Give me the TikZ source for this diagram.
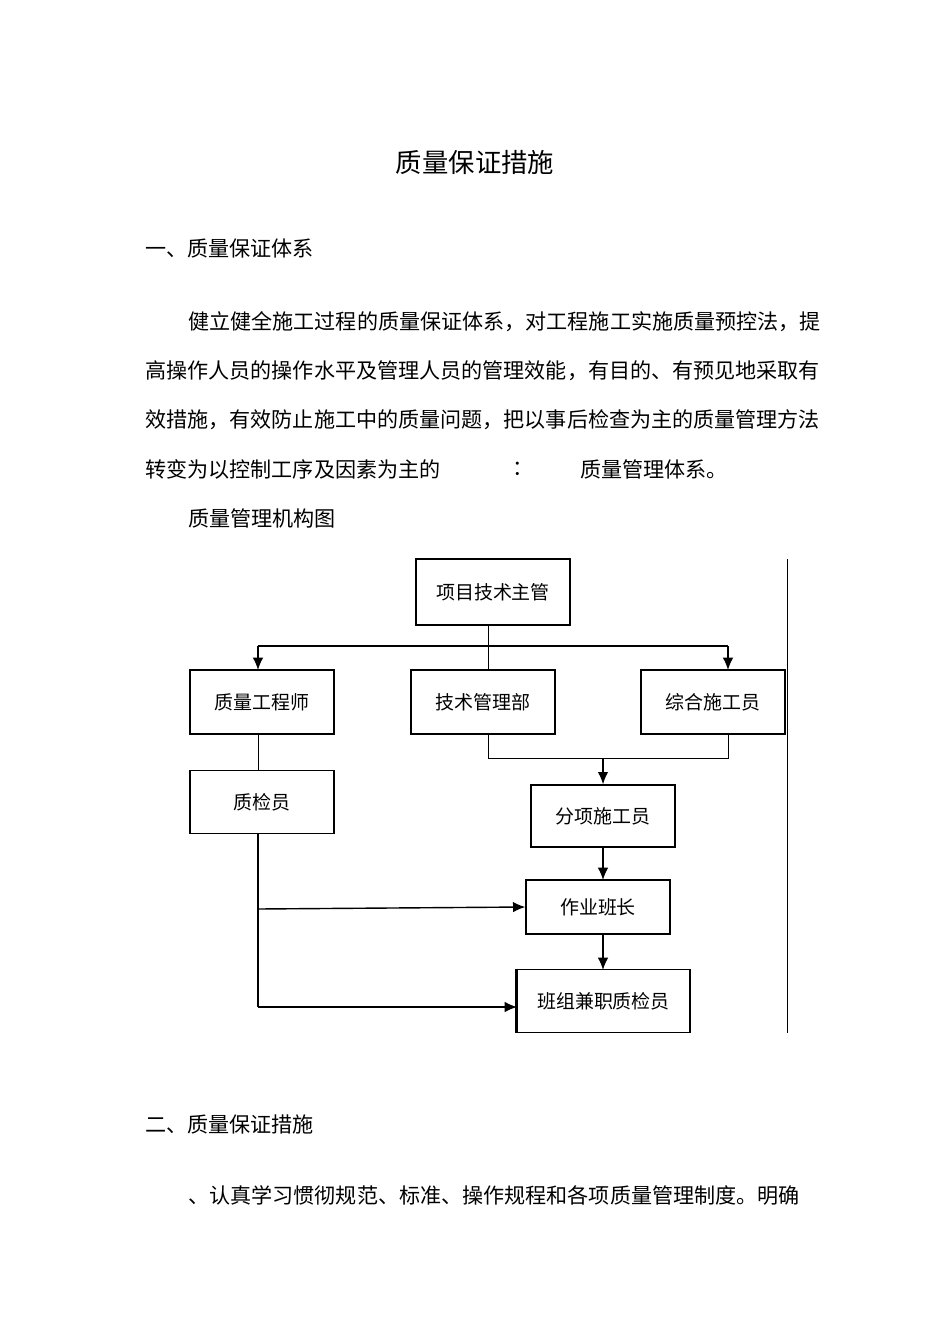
\documentclass[tikz,border=0pt]{standalone}
\usepackage{fontspec}
\setmainfont{Noto Sans CJK SC}
\usetikzlibrary{arrows.meta}
\begin{document}
\begin{tikzpicture}[x=0.02cm,y=-0.02cm,
  txt/.style={anchor=west,inner sep=0,font=\fontsize{12}{14}\selectfont},
  box/.style={draw,thick,minimum width=2.88cm,minimum height=1.28cm,font=\fontsize{10.8}{13}\selectfont,inner sep=0},
  arr/.style={-{Latex[length=7pt,width=6pt]},thick},
  ln/.style={thin}]
\useasboundingbox (0,0) rectangle (950,1344);
\node[font=\fontsize{15}{18}\selectfont] (title) at (475,162) {质量保证措施};
\node[txt] (s1) at (145,249) {一、质量保证体系};
\node[txt] (p1) at (188,322) {健立健全施工过程的质量保证体系，对工程施工实施质量预控法，提};
\node[txt] (p2) at (145,371) {高操作人员的操作水平及管理人员的管理效能，有目的、有预见地采取有};
\node[txt] (p3) at (145,420) {效措施，有效防止施工中的质量问题，把以事后检查为主的质量管理方法};
\node[txt] (p4) at (145,469) {转变为以控制工序及因素为主的};
\node[txt] (p4b) at (512,469) {：};
\node[txt] (p4c) at (580,469) {质量管理体系。};
\node[txt] (cap) at (188,518) {质量管理机构图};

\node[box,minimum width=3.08cm,minimum height=1.32cm] (top) at (493,592) {项目技术主管};
\node[box] (qe) at (262,702) {质量工程师};
\node[box] (tm) at (483,702) {技术管理部};
\node[box] (zh) at (713,702) {综合施工员};
\node[box,minimum height=1.26cm] (zj) at (262,802) {质检员};
\node[box,minimum height=1.24cm] (fx) at (603,816) {分项施工员};
\node[box,minimum height=1.08cm] (zy) at (598,907) {作业班长};
\node[box,minimum width=3.46cm,minimum height=1.26cm] (bz) at (603.5,1001) {班组兼职质检员};
\draw[line width=1.4pt] (bz.north west) -- (bz.south west);

\coordinate (vt) at (787,559);
\coordinate (vb) at (787,1033);
\draw[ln] (vt) -- (vb);

\coordinate (h1) at (488,646);
\draw[ln] (488,625) -- (488,670);
\draw[thick] (258,646) -- (728,646);
\draw[arr] (258,646) -- (258,670);
\draw[arr] (728,646) -- (728,670);
\draw[ln] (258,734) -- (258,771);
\draw[ln] (488,734) -- (488,758) -- (728,758) -- (728,734);
\draw[arr] (603,758) -- (fx.north);
\draw[arr] (fx.south) -- (603,880);
\draw[arr] (603,934) -- (603,970);
\draw[thick] (258,834) -- (258,1007);
\draw[arr] (258,909) -- (zy.west);
\draw[arr] (258,1007) -- (517,1007);

\node[txt] (s2) at (145,1124) {二、质量保证措施};
\node[txt] (q1) at (188,1195) {、认真学习惯彻规范、标准、操作规程和各项质量管理制度。明确};
\end{tikzpicture}
\end{document}
